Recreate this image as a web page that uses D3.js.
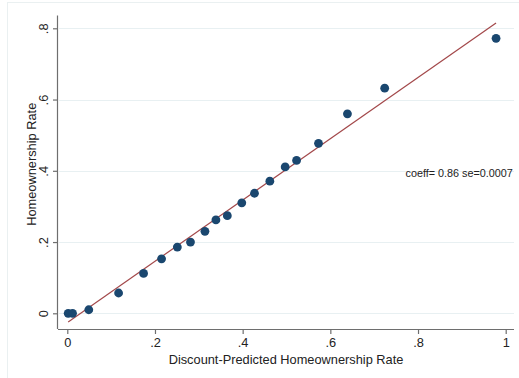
<!DOCTYPE html>
<html>
<head>
<meta charset="utf-8">
<script src="https://cdn.jsdelivr.net/npm/d3@7"></script>
<style>
  html, body { margin: 0; padding: 0; background: #fff; }
  svg { display: block; font-family: "Liberation Sans", Arial, sans-serif; }
</style>
</head>
<body>
<svg id="chart" width="519" height="378"></svg>
<script>
// Binned means: predicted vs. actual homeownership rate (20 bins)
const predicted = [0.002, 0.012, 0.049, 0.117, 0.174, 0.215, 0.251, 0.281, 0.314, 0.339,
                   0.365, 0.398, 0.427, 0.462, 0.497, 0.523, 0.573, 0.639, 0.724, 0.978];
const actual    = [0.000, 0.000, 0.010, 0.057, 0.112, 0.153, 0.186, 0.200, 0.230, 0.262,
                   0.274, 0.310, 0.337, 0.371, 0.411, 0.429, 0.477, 0.560, 0.632, 0.772];

// Linear fit
const slope = 0.86;
const intercept = -0.026;
const fitLabel = "coeff= 0.86 se=0.0007";

const xTicks = [0, 0.2, 0.4, 0.6, 0.8, 1];
const yTicks = [0, 0.2, 0.4, 0.6, 0.8];
const fmt = v => v === 0 ? "0" : (v === 1 ? "1" : String(v).replace(/^0/, ""));

const svg = d3.select("#chart");

// Plot region
const plotLeft = 58, plotRight = 514, plotTop = 15.5, plotBottom = 329;

const x = d3.scaleLinear().domain([0, 1]).range([67.3, 505.7]);
const y = d3.scaleLinear().domain([0, 0.8]).range([313.3, 28.3]);

// Outer graph-region border
svg.append("rect")
  .attr("x", 7.5).attr("y", 2.5)
  .attr("width", 530).attr("height", 400)
  .attr("fill", "none")
  .attr("stroke", "#eaf0f1")
  .attr("stroke-width", 1);

// Horizontal grid lines
svg.append("g")
  .selectAll("line")
  .data(yTicks)
  .join("line")
  .attr("x1", plotLeft + 1).attr("x2", plotRight)
  .attr("y1", d => Math.round(y(d)) + 0.5)
  .attr("y2", d => Math.round(y(d)) + 0.5)
  .attr("stroke", "#e8f0f2")
  .attr("stroke-width", 1);

// Axes
const xAxis = d3.axisBottom(x).tickValues(xTicks).tickFormat(fmt).tickSize(5).tickPadding(4);
const yAxis = d3.axisLeft(y).tickValues(yTicks).tickFormat(fmt).tickSize(5).tickPadding(4);

const gx = svg.append("g").attr("transform", `translate(0,${plotBottom})`).call(xAxis);
const gy = svg.append("g").attr("transform", `translate(${plotLeft},0)`).call(yAxis);

gx.select(".domain").attr("d", `M${plotLeft},0.5H${plotRight}`);
gy.select(".domain").attr("d", `M-0.5,${plotTop}V${plotBottom}`);

[gx, gy].forEach(g => {
  g.selectAll(".domain").attr("stroke", "#6e6e6e").attr("stroke-width", 1.2);
  g.selectAll(".tick line").attr("stroke", "#6e6e6e").attr("stroke-width", 1.2);
  g.selectAll(".tick text")
    .attr("fill", "#222")
    .style("font-size", "12.8px")
    .style("font-family", "'Liberation Sans', Arial, sans-serif");
});

// Rotated y tick labels
gy.selectAll(".tick text")
  .attr("x", null)
  .attr("text-anchor", "middle")
  .attr("transform", "translate(-14.5,0) rotate(-90)")
  .attr("dy", "0.35em");

// Axis titles
svg.append("text")
  .attr("x", 286)
  .attr("y", 364)
  .attr("text-anchor", "middle")
  .attr("fill", "#222")
  .style("font-size", "12.8px")
  .text("Discount-Predicted Homeownership Rate");

svg.append("text")
  .attr("transform", `translate(35.5,${(plotTop + plotBottom) / 2 - 8}) rotate(-90)`)
  .attr("text-anchor", "middle")
  .attr("fill", "#222")
  .style("font-size", "12.8px")
  .text("Homeownership Rate");

// Fitted line over the range of the bins
const [xMin, xMax] = d3.extent(predicted);
svg.append("line")
  .attr("x1", x(xMin)).attr("y1", y(intercept + slope * xMin))
  .attr("x2", x(xMax)).attr("y2", y(intercept + slope * xMax))
  .attr("stroke", "#a3484a")
  .attr("stroke-width", 1.2);

// Bin markers
svg.append("g")
  .selectAll("circle")
  .data(predicted.map((p, i) => [p, actual[i]]))
  .join("circle")
  .attr("cx", d => x(d[0]))
  .attr("cy", d => y(d[1]))
  .attr("r", 4.4)
  .attr("fill", "#1a476f");

// Fit annotation
svg.append("text")
  .attr("x", 405.5)
  .attr("y", 176.5)
  .attr("fill", "#222")
  .style("font-size", "10.8px")
  .text(fitLabel);
</script>
</body>
</html>
